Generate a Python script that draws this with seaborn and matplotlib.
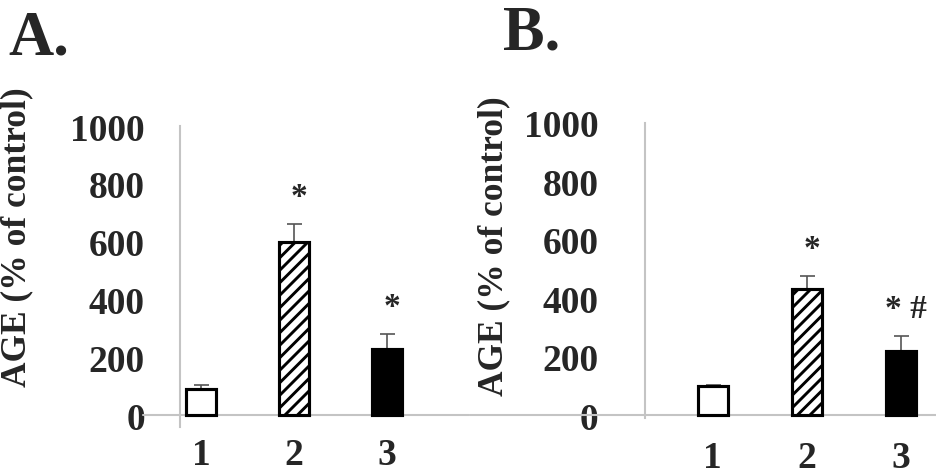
import pandas as pd
import seaborn as sns
import matplotlib.pyplot as plt

# values (AGE, % of control)
groups = ["1", "2", "3"]
age_a = [90, 600, 230]
err_a = [15, 60, 50]
age_b = [100, 430, 220]
err_b = [3, 45, 50]
marks_a = ["", "*", "*"]
marks_b = ["", "*", "* #"]
y_ticks = [0, 200, 400, 600, 800, 1000]

sns.set_style("white")
plt.rcParams["font.family"] = ["Liberation Serif", "DejaVu Serif"]
plt.rcParams["font.weight"] = "bold"
plt.rcParams["hatch.linewidth"] = 1.4

GREY = "#c4c4c4"


def draw_panel(ax, vals, errs, marks, ylim, tick_len, tick_pad, xpad, line_from):
    df = pd.DataFrame({"group": groups, "age": vals})
    sns.barplot(data=df, x="group", y="age", hue="group",
                palette=["white", "white", "black"], width=0.32,
                edgecolor="black", linewidth=1.5, legend=False, ax=ax, zorder=3)
    ax.patches[1].set_hatch("////")
    ax.errorbar(range(len(vals)), vals, yerr=[[0] * len(vals), errs], fmt="none",
                ecolor="#555555", elinewidth=0.8, capsize=3.6, capthick=0.8, zorder=2)
    for i, (v, e, m) in enumerate(zip(vals, errs, marks)):
        if m:
            ax.text(i + 0.05, v + e + 95, m, ha="center", va="center",
                    fontsize=16, fontweight="bold")
    ax.axhline(0, xmin=line_from, xmax=1.1, color=GREY, lw=1.0,
               clip_on=False, zorder=1)
    ax.set_ylim(*ylim)
    ax.set_yticks(y_ticks)
    ax.set_xlabel("")
    ax.set_ylabel("AGE (% of control)", fontsize=17, fontweight="bold")
    for s in ["top", "right", "bottom"]:
        ax.spines[s].set_visible(False)
    ax.spines["left"].set_color(GREY)
    ax.spines["left"].set_linewidth(1.0)
    ax.tick_params(axis="y", length=tick_len, width=1.0, color=GREY,
                   pad=tick_pad, labelsize=18)
    ax.tick_params(axis="x", length=0, pad=xpad, labelsize=18)


fig = plt.figure(figsize=(6.24, 3.1733), dpi=150)
ax_a = fig.add_axes([0.1923, 0.1017, 0.281, 0.631])
ax_b = fig.add_axes([0.6891, 0.1197, 0.3109, 0.62])

draw_panel(ax_a, age_a, err_a, marks_a, (-40, 1000), 11, 5.8, 5, -0.14)
ax_a.set_xlim(-0.226, 2.6)
ax_a.yaxis.set_label_coords(-0.559, 0.634)

draw_panel(ax_b, age_b, err_b, marks_b, (-10, 1000), 7.2, 15, 10.5, -0.6)
ax_b.set_xlim(-0.72, 2.37)
ax_b.yaxis.set_label_coords(-0.464, 0.586)

fig.text(8 / 936, 1 - 55 / 476, "A.", fontsize=30, fontweight="bold", va="baseline")
fig.text(503 / 936, 1 - 50 / 476, "B.", fontsize=30, fontweight="bold", va="baseline")

fig.savefig("out.png", dpi=150, facecolor="white")
